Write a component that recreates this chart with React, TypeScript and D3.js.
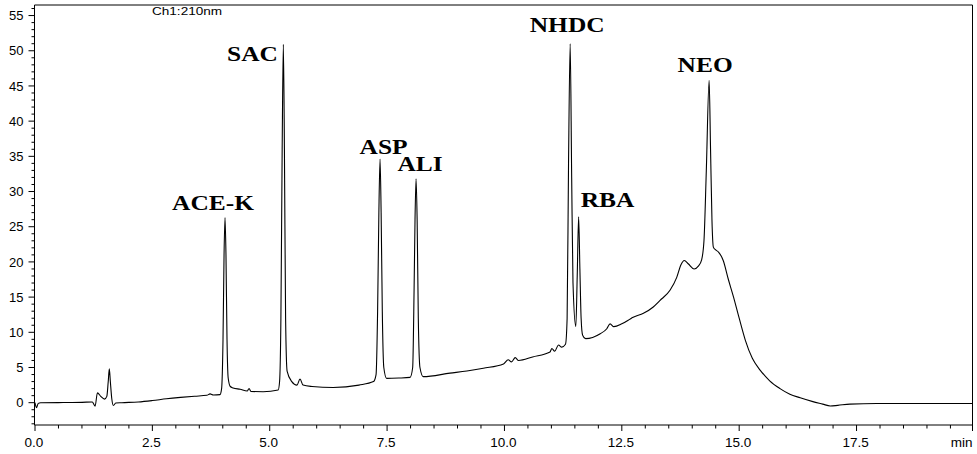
import React from "react";
import * as d3 from "d3";

// Chromatogram trace: retention time (min) and detector response (mAU)
const times: number[] = [
  0.0, 0.03, 0.07, 0.12, 0.6, 1.0, 1.22,
  1.28, 1.33, 1.4, 1.48, 1.53, 1.56, 1.583, 1.605, 1.635, 1.67, 1.72, 1.85,
  2.2, 2.5, 2.8, 3.1, 3.4, 3.66, 3.73, 3.8, 3.94,
  3.975, 4.005, 4.027, 4.048, 4.068, 4.09, 4.115, 4.16, 4.22, 4.37,
  4.52, 4.56, 4.6, 4.86, 5.18,
  5.21, 5.238, 5.265, 5.29, 5.313, 5.338, 5.37, 5.47, 5.58, 5.645, 5.71, 5.9, 6.35, 6.9, 7.21,
  7.265, 7.298, 7.325, 7.35, 7.373, 7.398, 7.43, 7.49, 7.75, 7.99,
  8.045, 8.075, 8.095, 8.117, 8.14, 8.165, 8.2, 8.27,
  8.84, 9.2, 9.55, 9.98, 10.08, 10.15, 10.23, 10.3, 10.6, 10.97, 11.01, 11.07, 11.15, 11.22, 11.3,
  11.335, 11.365, 11.4, 11.432, 11.46, 11.52, 11.55, 11.58, 11.607, 11.633, 11.665, 11.73,
  12.04, 12.18, 12.25, 12.33, 12.5, 12.68, 12.73, 12.96, 13.17, 13.31, 13.53, 13.67, 13.76, 13.83, 13.92, 14.04, 14.13, 14.2,
  14.25, 14.3, 14.36, 14.39, 14.42, 14.45, 14.5, 14.56, 14.66, 14.77, 14.88, 15.0, 15.13, 15.28, 15.45, 15.65, 15.87, 16.08, 16.3, 16.57, 16.78, 16.94, 17.1, 17.36, 17.93, 19.97,
];

const response: number[] = [
  0.0, -0.7, -0.1, 0.0, 0.02, 0.05, 0.1,
  -0.5, 1.4, 0.9, 0.5, 0.9, 3.0, 4.8, 3.0, 0.6, -0.4, -0.05, 0.0,
  0.1, 0.3, 0.55, 0.75, 0.92, 1.05, 1.25, 1.1, 1.15,
  2.0, 9, 21, 26.3, 21, 9, 3.5, 2.3, 2.1, 1.9,
  1.65, 2.0, 1.6, 1.56, 1.8,
  3, 12, 36, 50.9, 36, 12, 4.5, 3.0, 2.5, 3.36, 2.5, 2.3, 2.15, 2.5, 3.0,
  4, 13, 27, 34.6, 27, 13, 5, 3.45, 3.5, 3.6,
  5, 16, 26, 31.8, 26, 12, 5, 3.7,
  4.2, 4.5, 4.9, 5.5, 6.1, 5.8, 6.4, 6.0, 6.5, 7.2, 7.7, 7.3, 8.2, 7.9, 8.3,
  12, 34, 51.0, 32, 17, 10.8, 18, 26.4, 19, 12, 9.6, 9.1,
  9.8, 10.5, 11.2, 10.8, 11.2, 11.9, 12.1, 12.7, 13.6, 14.5, 16.0, 17.8, 19.6, 20.2, 19.7, 19.0, 19.4, 20.3,
  23, 33, 45.8, 36, 26, 22.1, 21.7, 21.4, 20.2, 17.5, 15.0, 12.0, 8.9, 6.3, 4.6, 3.1, 2.0, 1.2, 0.7, 0.15, -0.2, -0.47, -0.38, -0.2, -0.12, -0.12,
];

// Identified sweeteners: name, retention time, apex height
const peakNames: string[] = ["ACE-K", "SAC", "ASP", "ALI", "NHDC", "RBA", "NEO"];
const peakTimes: number[] = [4.048, 5.29, 7.35, 8.117, 11.4, 11.58, 14.36];
const peakHeights: number[] = [26.3, 50.9, 34.6, 31.8, 51.0, 26.4, 45.8];

const xMajorTicks: number[] = [0, 2.5, 5, 7.5, 10, 12.5, 15, 17.5];
const yMajorTicks: number[] = [0, 5, 10, 15, 20, 25, 30, 35, 40, 45, 50, 55];
const channelLabel = "Ch1:210nm";
const timeUnit = "min";

// Label placement relative to each apex (pixels)
const labelLayout: { anchor: "start" | "middle" | "end"; dx: number; dy: number }[] = [
  { anchor: "middle", dx: -12, dy: -8 },
  { anchor: "end", dx: -5.5, dy: 17 },
  { anchor: "middle", dx: 3.5, dy: -5.3 },
  { anchor: "middle", dx: 4, dy: -8 },
  { anchor: "middle", dx: -3, dy: -11.5 },
  { anchor: "start", dx: 2, dy: -10 },
  { anchor: "middle", dx: -4, dy: -8 },
];

const W = 977;
const H = 454;
const left = 34.5;
const right = 972.5;
const top = 5;
const bottom = 425;

export default function App() {
  const x = d3.scaleLinear().domain([0, 19.97]).range([35, right]);
  const y = d3.scaleLinear().domain([-3.17, 56.5]).range([bottom, top]);

  const points: [number, number][] = times.map((t, i) => [t, response[i]]);
  const line = d3
    .line<[number, number]>()
    .x((d) => x(d[0]))
    .y((d) => y(d[1]))
    .curve(d3.curveMonotoneX);

  const xMinor = d3.range(0, 19.75, 0.5).filter((v) => Math.abs(v / 2.5 - Math.round(v / 2.5)) > 1e-6);
  const yMinor = d3.range(-3, 57, 1).filter((v) => v % 5 !== 0);

  const axisFont = "'Liberation Sans', Arial, sans-serif";
  const labelFont = "'Liberation Serif', 'Times New Roman', serif";

  return (
    <svg
      width={W}
      height={H}
      viewBox={`0 0 ${W} ${H}`}
      style={{ position: "absolute", left: 0, top: 0, background: "#fff" }}
    >
      <rect x={0} y={0} width={W} height={H} fill="#fff" />

      {/* frame */}
      <line x1={left} y1={top} x2={right} y2={top} stroke="#000" strokeWidth={1} />
      <line x1={right} y1={top} x2={right} y2={bottom + 6} stroke="#000" strokeWidth={1} />
      <line x1={left} y1={top} x2={left} y2={bottom} stroke="#000" strokeWidth={1} />
      <line x1={left} y1={bottom} x2={right} y2={bottom} stroke="#000" strokeWidth={1} />

      {/* x ticks */}
      {xMinor.map((v) => (
        <line key={"xm" + v} x1={x(v)} x2={x(v)} y1={bottom} y2={bottom + 3.5} stroke="#000" strokeWidth={1} />
      ))}
      {xMajorTicks.map((v) => (
        <g key={"xM" + v}>
          <line x1={x(v)} x2={x(v)} y1={bottom} y2={bottom + 6} stroke="#000" strokeWidth={1} />
          <text
            x={x(v) - 1}
            y={446.5}
            textAnchor="middle"
            fontFamily={axisFont}
            fontSize={13.5}
            fill="#000"
          >
            {d3.format(".1f")(v)}
          </text>
        </g>
      ))}
      <text x={right} y={446.5} textAnchor="end" fontFamily={axisFont} fontSize={13.5} fill="#000">
        {timeUnit}
      </text>

      {/* y ticks */}
      {yMinor.map((v) => (
        <line key={"ym" + v} x1={left - 3} x2={left} y1={y(v)} y2={y(v)} stroke="#000" strokeWidth={1} />
      ))}
      {yMajorTicks.map((v) => (
        <g key={"yM" + v}>
          <line x1={left - 6} x2={left} y1={y(v)} y2={y(v)} stroke="#000" strokeWidth={1} />
          <text
            x={23.5}
            y={y(v)}
            dy="0.36em"
            textAnchor="end"
            fontFamily={axisFont}
            fontSize={13}
            fill="#000"
          >
            {v}
          </text>
        </g>
      ))}

      <text
        transform={`translate(152,15) scale(1.18,1)`}
        fontFamily={axisFont}
        fontSize={11.5}
        fill="#000"
      >
        {channelLabel}
      </text>

      {/* trace */}
      <path d={line(points) ?? ""} fill="none" stroke="#000" strokeWidth={1.1} strokeLinejoin="round" />

      {/* peak labels */}
      {peakNames.map((name, i) => {
        const lay = labelLayout[i];
        const px = x(peakTimes[i]) + lay.dx;
        const py = y(peakHeights[i]) + lay.dy;
        return (
          <text
            key={name}
            transform={`translate(${px},${py}) scale(1.27,1)`}
            textAnchor={lay.anchor}
            fontFamily={labelFont}
            fontWeight="bold"
            fontSize={20}
            fill="#000"
          >
            {name}
          </text>
        );
      })}
    </svg>
  );
}
